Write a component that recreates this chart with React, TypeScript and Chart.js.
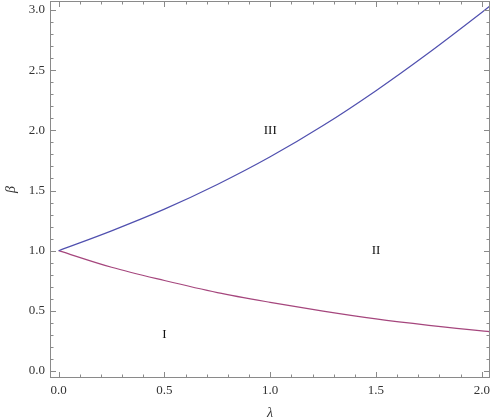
import { useEffect, useRef } from 'react';
import { Chart, registerables } from 'chart.js';

Chart.register(...registerables);

// ---- data ----
const lambdaValues = [0, 0.25, 0.5, 0.75, 1, 1.25, 1.5, 1.75, 2, 2.04];
const upperBeta = [1, 1.165, 1.345, 1.55, 1.78, 2.04, 2.33, 2.645, 2.98, 3.035];
const lowerBeta = [1, 0.862, 0.752, 0.652, 0.571, 0.498, 0.433, 0.38, 0.334, 0.328];

const xTickValues = [0, 0.5, 1, 1.5, 2];
const yTickValues = [0, 0.5, 1, 1.5, 2, 2.5, 3];

const regionNames = ['I', 'II', 'III'];
const regionLambda = [0.5, 1.5, 1.0];
const regionBeta = [0.3, 1.0, 2.0];

const X_MIN = -0.041;
const X_MAX = 2.039;
const Y_MIN = -0.058;
const Y_MAX = 3.075;

const FRAME = '#8a8a8a';
const TEXT = '#333333';
const SERIF = "'Liberation Serif', 'DejaVu Serif', serif";

const framePlugin = {
  id: 'mmaFrame',
  afterDraw(chart: any) {
    const { ctx, chartArea } = chart;
    const { left, right, top, bottom } = chartArea;
    const xs = chart.scales.x;
    const ys = chart.scales.y;
    ctx.save();
    ctx.strokeStyle = FRAME;
    ctx.lineWidth = 1;
    ctx.strokeRect(left + 0.5, top + 0.5, right - left - 1, bottom - top - 1);
    const majorLen = 6;
    const minorLen = 3.5;
    ctx.beginPath();
    for (let i = -5; i <= 25; i++) {
      const v = i / 10;
      if (v < X_MIN || v > X_MAX) continue;
      const px = Math.round(xs.getPixelForValue(v)) + 0.5;
      const len = i % 5 === 0 ? majorLen : minorLen;
      ctx.moveTo(px, bottom);
      ctx.lineTo(px, bottom - len);
      ctx.moveTo(px, top);
      ctx.lineTo(px, top + len);
    }
    for (let i = -5; i <= 35; i++) {
      const v = i / 10;
      if (v < Y_MIN || v > Y_MAX) continue;
      const py = Math.round(ys.getPixelForValue(v)) + 0.5;
      const len = i % 5 === 0 ? majorLen : minorLen;
      ctx.moveTo(left, py);
      ctx.lineTo(left + len, py);
      ctx.moveTo(right, py);
      ctx.lineTo(right - len, py);
    }
    ctx.stroke();

    ctx.fillStyle = '#111';
    ctx.font = `13px ${SERIF}`;
    ctx.textAlign = 'center';
    ctx.textBaseline = 'middle';
    regionNames.forEach((name, i) => {
      ctx.fillText(name, xs.getPixelForValue(regionLambda[i]), ys.getPixelForValue(regionBeta[i]));
    });
    ctx.restore();
  },
};

export default function App() {
  const ref = useRef<HTMLCanvasElement>(null);
  useEffect(() => {
    document.body.style.margin = '0';
    const toPoints = (ys: number[]) => lambdaValues.map((x, i) => ({ x, y: ys[i] }));
    const chart = new Chart(ref.current!, {
      type: 'line',
      data: {
        datasets: [
          {
            data: toPoints(upperBeta),
            borderColor: 'rgb(80, 80, 175)',
            borderWidth: 1.2,
            pointRadius: 0,
            cubicInterpolationMode: 'monotone',
            fill: false,
          },
          {
            data: toPoints(lowerBeta),
            borderColor: 'rgb(165, 70, 125)',
            borderWidth: 1.2,
            pointRadius: 0,
            cubicInterpolationMode: 'monotone',
            fill: false,
          },
        ],
      },
      options: {
        animation: false,
        responsive: true,
        maintainAspectRatio: false,
        layout: { padding: { top: 1, right: 1, left: 0, bottom: 0 } },
        plugins: { legend: { display: false }, tooltip: { enabled: false } },
        scales: {
          x: {
            type: 'linear',
            min: X_MIN,
            max: X_MAX,
            grid: { display: false, drawTicks: false },
            border: { display: false },
            ticks: {
              color: TEXT,
              font: { family: SERIF, size: 13 },
              padding: 5,
              maxRotation: 0,
              autoSkip: false,
              callback: (v: any) => Number(v).toFixed(1),
            },
            afterBuildTicks: (s: any) => {
              s.ticks = xTickValues.map((value) => ({ value }));
            },
            afterFit: (s: any) => {
              s.height = 42;
              s.paddingLeft = 0;
              s.paddingRight = 0;
            },
            title: {
              display: true,
              text: 'λ',
              color: TEXT,
              font: { family: SERIF, size: 14, style: 'italic' },
              padding: { top: 2, bottom: -2 },
            },
          },
          y: {
            type: 'linear',
            min: Y_MIN,
            max: Y_MAX,
            grid: { display: false, drawTicks: false },
            border: { display: false },
            ticks: {
              color: TEXT,
              font: { family: SERIF, size: 13 },
              padding: 5,
              autoSkip: false,
              callback: (v: any) => Number(v).toFixed(1),
            },
            afterBuildTicks: (s: any) => {
              s.ticks = yTickValues.map((value) => ({ value }));
            },
            afterFit: (s: any) => {
              s.width = 50;
              s.paddingTop = 0;
              s.paddingBottom = 0;
            },
            title: {
              display: true,
              text: 'β',
              color: TEXT,
              font: { family: SERIF, size: 14, style: 'italic' },
              padding: { top: 3, bottom: 0 },
            },
          },
        },
      },
      plugins: [framePlugin],
    } as any);
    return () => chart.destroy();
  }, []);
  return (
    <div style={{ width: 491, height: 420, position: 'relative' }}>
      <canvas ref={ref} />
    </div>
  );
}
